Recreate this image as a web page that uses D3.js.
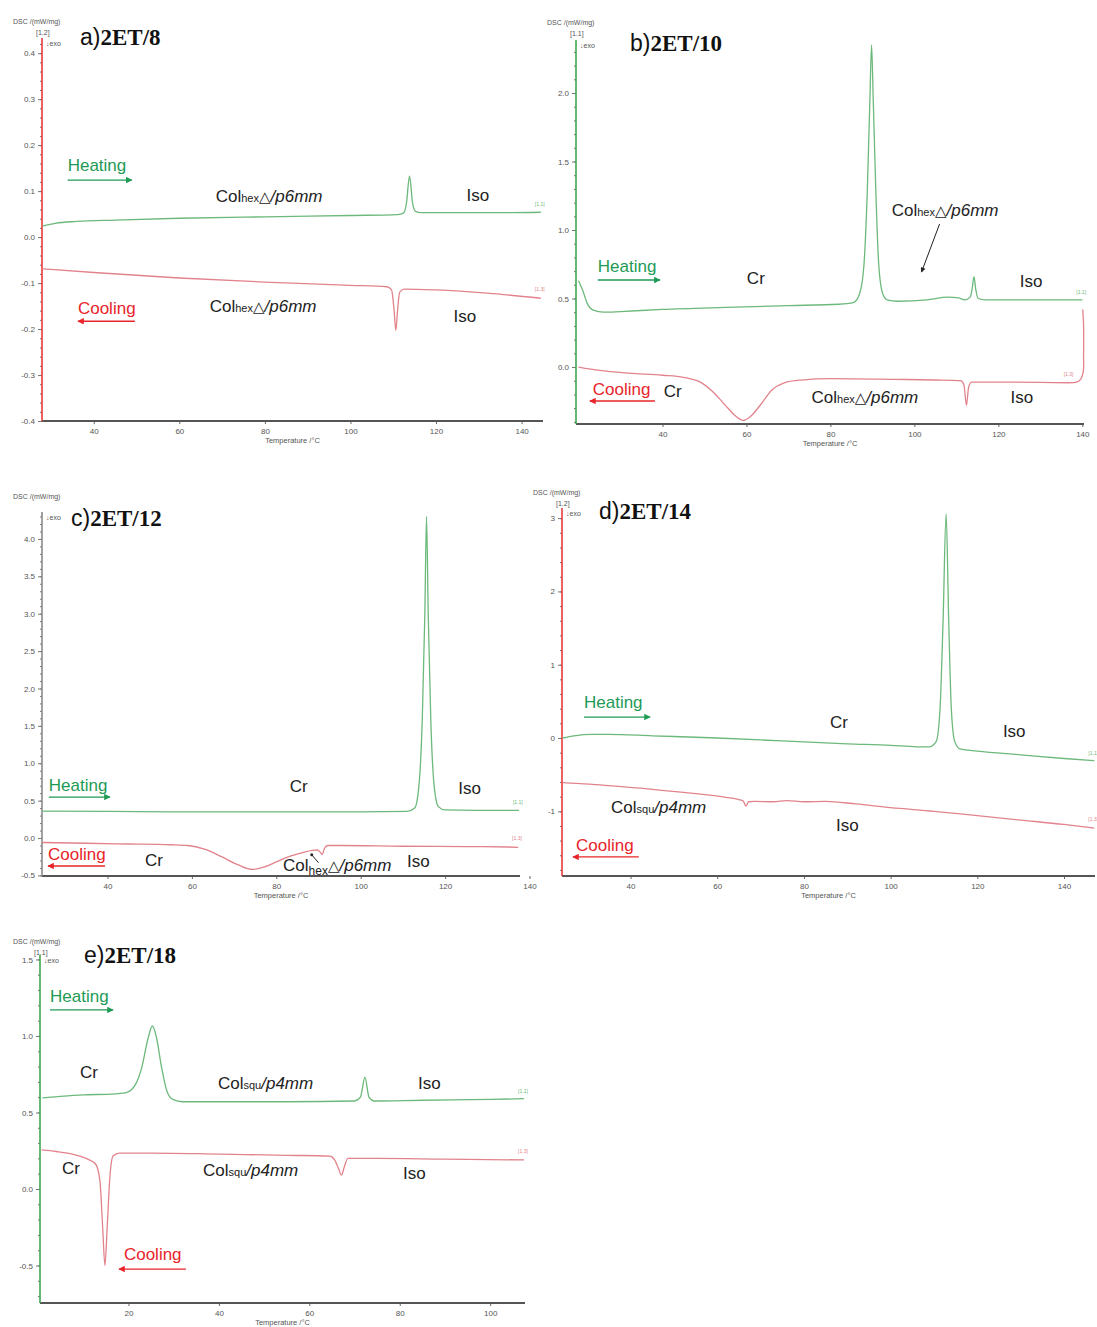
<!DOCTYPE html>
<html><head><meta charset="utf-8">
<script src="https://cdn.jsdelivr.net/npm/d3@7"></script>
<style>
body{margin:0;background:#fff}
svg text{font-family:"Liberation Sans",Arial,sans-serif}
</style>
</head><body>
<svg id="chart" width="1097" height="1327"></svg>
<script>
// ---------- DATA (temperature °C, DSC mW/mg) ----------
const heatA = [[28,0.024],[31,0.030],[36,0.034],[45,0.037],[60,0.041],[80,0.044],[100,0.047],[111,0.049],[112.4,0.052],[113.1,0.075],[113.8,0.133],[114.5,0.075],[115.2,0.056],[116.5,0.053],[125,0.053],[135,0.053],[144.5,0.054]];
const coolA = [[28,-0.069],[40,-0.077],[60,-0.089],[80,-0.098],[100,-0.105],[108.5,-0.108],[109.6,-0.115],[110.2,-0.16],[110.6,-0.203],[111.0,-0.16],[111.5,-0.12],[112.5,-0.113],[120,-0.115],[132,-0.122],[144.5,-0.133]];

const heatB = [[20,0.63],[21,0.56],[22,0.47],[23.5,0.415],[26,0.40],[30,0.405],[40,0.42],[55,0.435],[70,0.448],[82,0.458],[85.5,0.47],[87,0.54],[88,0.75],[88.8,1.3],[89.4,1.95],[89.8,2.35],[90.2,1.95],[90.8,1.3],[91.5,0.75],[92.4,0.54],[93.5,0.49],[96,0.48],[103,0.49],[108,0.51],[110.5,0.505],[112,0.49],[113.3,0.51],[113.8,0.58],[114.2,0.66],[114.6,0.57],[115.2,0.5],[117,0.49],[130,0.49],[140,0.49]];
const coolB = [[20,0.0],[25,-0.025],[32,-0.045],[40,-0.06],[45,-0.075],[49,-0.11],[52,-0.18],[55,-0.28],[57.5,-0.36],[59.2,-0.39],[61,-0.36],[63.5,-0.27],[66,-0.17],[69,-0.115],[73,-0.095],[80,-0.085],[95,-0.09],[105,-0.095],[111,-0.1],[111.8,-0.13],[112.4,-0.28],[112.9,-0.15],[113.6,-0.11],[120,-0.11],[137,-0.115]];
const coolBTail = [[137,-0.115],[138.6,-0.11],[139.6,-0.09],[140.2,-0.04],[140.3,0.1],[140.3,0.3],[140.1,0.42]];

const heatC = [[24.5,0.36],[40,0.355],[60,0.35],[80,0.35],[100,0.35],[111,0.355],[112.8,0.40],[113.8,0.7],[114.6,1.6],[115.2,3.0],[115.6,4.3],[116,3.0],[116.6,1.6],[117.4,0.7],[118.4,0.42],[120,0.375],[130,0.37],[137.5,0.37]];
const coolC = [[24.5,-0.06],[35,-0.07],[45,-0.08],[55,-0.09],[59,-0.1],[63,-0.15],[67,-0.25],[71,-0.36],[74.3,-0.42],[77,-0.39],[80,-0.32],[83,-0.25],[86,-0.2],[88.5,-0.165],[89.8,-0.16],[90.4,-0.19],[90.9,-0.22],[91.4,-0.14],[92.2,-0.1],[95,-0.1],[110,-0.11],[125,-0.115],[135,-0.12],[137.3,-0.125]];

const heatD = [[24.3,0.0],[27,0.03],[31,0.05],[35,0.05],[45,0.03],[60,0.0],[75,-0.04],[90,-0.08],[100,-0.1],[106,-0.12],[109,-0.12],[110.5,-0.05],[111.4,0.4],[112.1,1.6],[112.8,3.06],[113.4,1.6],[114.0,0.4],[114.8,-0.05],[116,-0.15],[120,-0.18],[130,-0.23],[140,-0.28],[147,-0.31]];
const coolD = [[24.3,-0.61],[35,-0.65],[45,-0.7],[55,-0.76],[62,-0.81],[65,-0.84],[66,-0.86],[66.6,-0.93],[67.2,-0.87],[68.5,-0.865],[73,-0.87],[76,-0.855],[80,-0.87],[85,-0.865],[92,-0.9],[100,-0.95],[110,-1.0],[120,-1.06],[130,-1.12],[140,-1.18],[147,-1.23]];

const heatE = [[1,0.595],[5,0.605],[10,0.615],[16,0.62],[19.5,0.63],[21.5,0.68],[23,0.8],[24.3,0.98],[25.3,1.065],[26.2,0.99],[27.3,0.8],[28.5,0.64],[29.8,0.585],[32,0.57],[40,0.57],[55,0.57],[70,0.575],[71.3,0.6],[72.3,0.73],[73.2,0.6],[74.3,0.575],[85,0.58],[100,0.585],[107.5,0.59]];
const coolE = [[0.8,0.255],[4,0.245],[8,0.225],[11,0.195],[12.8,0.16],[13.7,0.05],[14.3,-0.25],[14.8,-0.5],[15.3,-0.25],[15.9,0.08],[16.6,0.215],[18,0.235],[25,0.235],[40,0.228],[55,0.22],[64.5,0.215],[65.6,0.19],[66.5,0.13],[67.1,0.09],[67.7,0.14],[68.5,0.2],[75,0.2],[90,0.195],[107.5,0.19]];

// tick values
const xLabelsA = [40,60,80,100,120,140];
const xLabelsE = [20,40,60,80,100];
const yTicksA = [-0.4,-0.3,-0.2,-0.1,0.0,0.1,0.2,0.3,0.4];
const yTicksB = [0.0,0.5,1.0,1.5,2.0];
const yTicksC = [-0.5,0.0,0.5,1.0,1.5,2.0,2.5,3.0,3.5,4.0];
const yTicksD = [-1,0,1,2,3];
const yTicksE = [-0.5,0.0,0.5,1.0,1.5];

const titles = ["a)","b)","c)","d)","e)"];
const names = ["2ET/8","2ET/10","2ET/12","2ET/14","2ET/18"];

// ---------- DRAW ----------
const svg = d3.select("#chart");
const GREEN = "#6cb97b", RED = "#e2838c";
const TXTG = "#1e9a55", TXTR = "#e8242a";

const panels = [
 {x0:42,x1:543,xd:[27.9,145],yTop:38,yBot:421,yd:[-0.4,0.433],xl:xLabelsA,xm:10,yt:yTicksA,ym:0.02,fmt:d=>d.toFixed(1),ax:"#e83a3a",
  heat:heatA,cool:coolA,tx:80,ty:45,hdr:[13,24],idx:"[1.2]",
  ann:[["Heating",33.9,0.143,"h"],["Cooling",36.3,-0.167,"c"],["hex",68.5,0.076,"col"],["Iso",127.1,0.078,"t"],["hex",67.1,-0.163,"col"],["Iso",124.1,-0.185,"t"]],
  arrows:[[33.9,48.9,0.124,"h"],[49.6,36.3,-0.183,"c"]]},
 {x0:576,x1:1084,xd:[19.4,140.4],yTop:40,yBot:424,yd:[-0.416,2.387],xl:xLabelsA,xm:10,yt:yTicksB,ym:0.1,fmt:d=>d.toFixed(1),ax:"#3fa650",
  heat:heatB,cool:coolB,tail:coolBTail,tx:630,ty:51,hdr:[547,25],idx:"[1.1]",
  ann:[["Heating",24.6,0.693,"h"],["Cr",60.1,0.606,"t"],["hex",94.6,1.10,"col"],["Iso",125.1,0.584,"t"],["Cooling",23.4,-0.204,"c"],["Cr",40.3,-0.219,"t"],["hex",75.5,-0.263,"col"],["Iso",122.9,-0.263,"t"]],
  arrows:[[24.6,39.4,0.635,"h"],[38.2,22.7,-0.248,"c"]],
  pointer:[106.0,1.044,101.7,0.693]},
 {x0:42,x1:520,xd:[24.48,137.75],yTop:512,yBot:876,yd:[-0.508,4.36],xl:xLabelsA,xm:10,yt:yTicksC,ym:0.1,fmt:d=>d.toFixed(1),ax:"#8a8a8a",
  heat:heatC,cool:coolC,tx:71,ty:526,hdr:[13,499],idx:null,
  ann:[["Heating",26.1,0.628,"h"],["Cr",83.2,0.615,"t"],["Iso",123.1,0.588,"t"],["Cooling",25.9,-0.294,"c"],["Cr",48.9,-0.374,"t"],["hexsub",81.6,-0.441,"col"],["Iso",111,-0.388,"t"]],
  arrows:[[26.1,40.6,0.548,"h"],[39.4,25.9,-0.374,"c"]],
  dotline:[88.4,-0.225,90.0,-0.33]},
 {x0:562,x1:1095,xd:[24.18,147.15],yTop:508,yBot:876,yd:[-1.883,3.138],xl:xLabelsA,xm:10,yt:yTicksD,ym:0.2,fmt:d=>d.toFixed(0),ax:"#e83a3a",
  heat:heatD,cool:coolD,tx:599,ty:519,hdr:[533,495],idx:"[1.2]",
  ann:[["Heating",29.25,0.409,"h"],["Cr",86.0,0.136,"t"],["Iso",125.9,0.014,"t"],["squ",35.5,-1.023,"col"],["Iso",87.4,-1.269,"t"],["Cooling",27.4,-1.542,"c"]],
  arrows:[[29.25,44.5,0.286,"h"],[41.9,26.7,-1.623,"c"]]},
 {x0:40,x1:525,xd:[0.44,107.7],yTop:955,yBot:1303,yd:[-0.745,1.529],xl:xLabelsE,xm:10,yt:yTicksE,ym:0.1,fmt:d=>d.toFixed(1),ax:"#3fa650",
  heat:heatE,cool:coolE,tx:84,ty:963,hdr:[13,944],idx:"[1.1]",
  ann:[["Heating",2.65,1.222,"h"],["Cr",9.3,0.725,"t"],["squ",39.8,0.654,"col"],["Iso",84.05,0.654,"t"],["Cr",5.3,0.098,"t"],["squ",36.5,0.085,"col"],["Iso",80.7,0.065,"t"],["Cooling",19.0,-0.464,"c"]],
  arrows:[[2.65,16.6,1.17,"h"],[32.7,17.9,-0.523,"c"]]}
];

const defs = svg.append("defs");
[["ah-g",TXTG],["ah-r",TXTR],["ah-k","#222"]].forEach(([id,c])=>{
  defs.append("marker").attr("id",id).attr("viewBox","0 0 10 10").attr("refX",9).attr("refY",5)
    .attr("markerWidth",6).attr("markerHeight",5).attr("orient","auto-start-reverse")
    .append("path").attr("d","M0,0L10,5L0,10z").attr("fill",c);
});

panels.forEach((p,i)=>{
  const g = svg.append("g");
  const x = d3.scaleLinear().domain(p.xd).range([p.x0,p.x1]);
  const y = d3.scaleLinear().domain(p.yd).range([p.yBot,p.yTop]);

  // x minor ticks
  const minor = d3.range(Math.ceil(p.xd[0]/p.xm)*p.xm, p.xd[1]+0.001, p.xm);
  g.append("g").attr("transform",`translate(0,${p.yBot})`)
    .call(d3.axisBottom(x).tickValues(minor).tickSize(2).tickFormat(""))
    .call(s=>s.select(".domain").remove())
    .call(s=>s.selectAll("line").attr("stroke","#666").attr("transform","translate(0,-1)"));
  const xa = g.append("g").attr("transform",`translate(0,${p.yBot})`)
    .call(d3.axisBottom(x).tickValues(p.xl).tickSize(3).tickPadding(4).tickFormat(d=>d));
  xa.select(".domain").remove();
  xa.selectAll("line").attr("stroke","#666");
  xa.selectAll("text").attr("font-size",8).attr("fill","#555").attr("font-family","Liberation Sans, Arial, sans-serif");
  g.append("line").attr("x1",p.x0).attr("x2",p.x1).attr("y1",p.yBot).attr("y2",p.yBot).attr("stroke","#555").attr("stroke-width",2);
  g.append("text").attr("x",(p.x0+p.x1)/2).attr("y",p.yBot+22).attr("text-anchor","middle")
    .attr("font-size",7.5).attr("fill","#555").text("Temperature /°C");

  // y axis
  const yminor = d3.range(Math.ceil(p.yd[0]/p.ym-1e-6)*p.ym, p.yd[1]+1e-6, p.ym);
  g.append("g").attr("transform",`translate(${p.x0},0)`)
    .call(d3.axisLeft(y).tickValues(yminor).tickSize(2).tickFormat(""))
    .call(s=>s.select(".domain").remove())
    .call(s=>s.selectAll("line").attr("stroke","#777"));
  const ya = g.append("g").attr("transform",`translate(${p.x0},0)`)
    .call(d3.axisLeft(y).tickValues(p.yt).tickSize(4).tickPadding(3).tickFormat(p.fmt));
  ya.select(".domain").remove();
  ya.selectAll("line").attr("stroke","#777");
  ya.selectAll("text").attr("font-size",8).attr("fill","#555").attr("font-family","Liberation Sans, Arial, sans-serif");
  g.append("line").attr("x1",p.x0).attr("x2",p.x0).attr("y1",p.yTop).attr("y2",p.yBot).attr("stroke",p.ax).attr("stroke-width",1.6);

  // header
  g.append("text").attr("x",p.hdr[0]).attr("y",p.hdr[1]).attr("font-size",7).attr("fill","#555").text("DSC /(mW/mg)");
  if(p.idx) g.append("text").attr("x",p.x0-6).attr("y",p.hdr[1]+11).attr("font-size",7).attr("fill","#555").text(p.idx);
  g.append("text").attr("x",p.x0+4).attr("y",p.yTop+8).attr("font-size",7).attr("fill","#555").text("↓exo");

  // title
  const t = g.append("text").attr("x",p.tx).attr("y",p.ty).attr("font-size",23).attr("fill","#111");
  t.append("tspan").attr("font-family","Liberation Sans, Arial, sans-serif").text(titles[i]);
  t.append("tspan").attr("font-family","Liberation Serif, Times New Roman, serif").attr("font-weight","bold").text(names[i]);

  // curves
  const line = d3.line().x(d=>x(d[0])).y(d=>y(d[1])).curve(d3.curveMonotoneX);
  g.append("path").datum(p.heat).attr("d",line).attr("fill","none").attr("stroke",GREEN).attr("stroke-width",1.3);
  g.append("path").datum(p.cool).attr("d",line).attr("fill","none").attr("stroke",RED).attr("stroke-width",1.3);
  if(p.tail){
    const l2 = d3.line().x(d=>x(d[0])).y(d=>y(d[1])).curve(d3.curveCatmullRom.alpha(0.5));
    g.append("path").datum(p.tail).attr("d",l2).attr("fill","none").attr("stroke",RED).attr("stroke-width",1.3);
  }
  // end tags
  const he = p.heat[p.heat.length-1], ce = (p.tail||p.cool)[(p.tail||p.cool).length-1];
  g.append("text").attr("x",x(he[0])-6).attr("y",y(he[1])-6).attr("font-size",5).attr("fill",GREEN).text("[1.1]");
  g.append("text").attr("x",x(p.cool[p.cool.length-1][0])-6).attr("y",y(p.cool[p.cool.length-1][1])-7).attr("font-size",5).attr("fill",RED).text("[1.3]");

  // annotations
  p.ann.forEach(a=>{
    const [txt,tx,tv,kind] = a;
    const el = g.append("text").attr("x",x(tx)).attr("y",y(tv)).attr("font-size",17);
    if(kind==="h"){ el.attr("fill",TXTG).text(txt); }
    else if(kind==="c"){ el.attr("fill",TXTR).text(txt); }
    else if(kind==="t"){ el.attr("fill","#222").text(txt); }
    else {
      el.attr("fill","#222");
      el.append("tspan").text("Col");
      if(txt==="hexsub"){
        el.append("tspan").attr("font-size",12).attr("dy",4).text("hex");
        el.append("tspan").attr("dy",-4).attr("font-family","DejaVu Sans, sans-serif").attr("font-size",15).text("△");
        el.append("tspan").attr("font-style","italic").text("/p6mm");
      } else if(txt==="hex"){
        el.append("tspan").attr("font-size",11).text("hex");
        el.append("tspan").attr("font-family","DejaVu Sans, sans-serif").attr("font-size",15).text("△");
        el.append("tspan").attr("font-style","italic").text("/p6mm");
      } else {
        el.append("tspan").attr("font-size",11).text("squ");
        el.append("tspan").attr("font-style","italic").text("/p4mm");
      }
    }
  });
  p.arrows.forEach(([t0,t1,v,kind])=>{
    g.append("line").attr("x1",x(t0)).attr("x2",x(t1)).attr("y1",y(v)).attr("y2",y(v))
      .attr("stroke",kind==="h"?TXTG:TXTR).attr("stroke-width",1.3)
      .attr("marker-end",`url(#${kind==="h"?"ah-g":"ah-r"})`);
  });
  if(p.pointer){
    const [a0,b0,a1,b1] = p.pointer;
    g.append("line").attr("x1",x(a0)).attr("y1",y(b0)).attr("x2",x(a1)).attr("y2",y(b1))
      .attr("stroke","#222").attr("stroke-width",1).attr("marker-end","url(#ah-k)");
  }
  if(p.dotline){
    const [a0,b0,a1,b1] = p.dotline;
    g.append("circle").attr("cx",x(a0)).attr("cy",y(b0)).attr("r",1.5).attr("fill","#222");
    g.append("line").attr("x1",x(a0)).attr("y1",y(b0)).attr("x2",x(a1)).attr("y2",y(b1)).attr("stroke","#222").attr("stroke-width",1);
  }
});
</script>
</body></html>
